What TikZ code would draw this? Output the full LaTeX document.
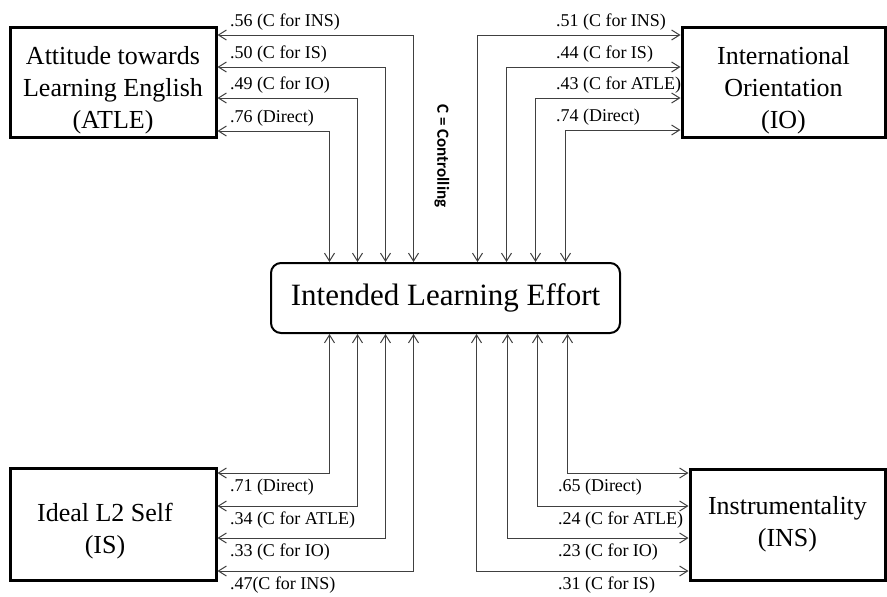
\documentclass[tikz,border=0pt]{standalone}
\usepackage{fontspec}
\setmainfont{Liberation Serif}
\newfontfamily\notefont{Carlito}
\usetikzlibrary{arrows.meta,calc}

\begin{document}
\begin{tikzpicture}[
  x=0.5pt, y=-0.5pt,
  >={Straight Barb[length=4pt,width=5pt]},
  factor/.style={rectangle, draw=black, line width=1.5pt, inner sep=0pt},
  factortext/.style={align=center, inner sep=0pt, font=\fontsize{13}{16}\selectfont},
  outcome/.style={rectangle, rounded corners=5pt, draw=black, line width=1pt, minimum width=174.5pt, minimum height=35pt, font=\fontsize{15.5}{18}\selectfont},
  link/.style={<->, draw=black!75, line width=0.5pt},
  coef/.style={inner sep=1pt, font=\fontsize{9}{10}\selectfont}
]
\useasboundingbox (0,0) rectangle (887,596);

% Outcome
\node[outcome] (ile) at (445.5,298) {Intended Learning Effort};

% Predictors
\node[factor, minimum width=103pt, minimum height=55pt] (atle) at (113,82) {};
\node[factortext] (atle-t) at ($(atle)+(0,8)$) {Attitude towards\\Learning English\\(ATLE)};
\node[factor, minimum width=101.5pt, minimum height=55pt] (io) at (783.5,82) {};
\node[factortext] (io-t) at ($(io)+(0,8)$) {International\\Orientation\\(IO)};
\node[factor, minimum width=103pt, minimum height=56pt] (is) at (113,524) {};
\node[factortext] (is-t) at ($(is)+(-8,7)$) {Ideal L2 Self\\(IS)};
\node[factor, minimum width=97.5pt, minimum height=55.5pt] (ins) at (787.5,524.5) {};
\node[factortext] (ins-t) at (ins) {Instrumentality\\(INS)};

% Note
\node[rotate=-90, font=\notefont\bfseries\fontsize{8.5}{10}\selectfont] (note) at (442,156) {C = Controlling};

% Edges ATLE -- ILE
\draw[link] ($(atle.east)+(0,-47)$) -| node[coef, pos=0, anchor=south west, xshift=5pt, yshift=1pt] (atle1) {.56 (C for INS)} ($(ile.north)+(-32,0)$);
\draw[link] ($(atle.east)+(0,-15)$) -| node[coef, pos=0, anchor=south west, xshift=5pt, yshift=1pt] (atle2) {.50 (C for IS)} ($(ile.north)+(-60,0)$);
\draw[link] ($(atle.east)+(0,16)$) -| node[coef, pos=0, anchor=south west, xshift=5pt, yshift=1pt] (atle3) {.49 (C for IO)} ($(ile.north)+(-88,0)$);
\draw[link] ($(atle.east)+(0,49)$) -| node[coef, pos=0, anchor=south west, xshift=5pt, yshift=1pt] (atle4) {.76 (Direct)} ($(ile.north)+(-116,0)$);

% Edges IO -- ILE
\draw[link] ($(io.west)+(0,-47)$) -| node[coef, pos=0, anchor=south west, xshift=-63.5pt, yshift=1pt] (io1) {.51 (C for INS)} ($(ile.north)+(32,0)$);
\draw[link] ($(io.west)+(0,-15)$) -| node[coef, pos=0, anchor=south west, xshift=-63.5pt, yshift=1pt] (io2) {.44 (C for IS)} ($(ile.north)+(61,0)$);
\draw[link] ($(io.west)+(0,16)$) -| node[coef, pos=0, anchor=south west, xshift=-63.5pt, yshift=1pt] (io3) {.43 (C for ATLE)} ($(ile.north)+(90,0)$);
\draw[link] ($(io.west)+(0,48)$) -| node[coef, pos=0, anchor=south west, xshift=-63.5pt, yshift=1pt] (io4) {.74 (Direct)} ($(ile.north)+(120,0)$);

% Edges IS -- ILE
\draw[link] ($(is.east)+(0,-51)$) -| node[coef, pos=0, anchor=north west, xshift=5pt, yshift=-1.5pt] (is1) {.71 (Direct)} ($(ile.south)+(-116,0)$);
\draw[link] ($(is.east)+(0,-18)$) -| node[coef, pos=0, anchor=north west, xshift=5pt, yshift=-1.5pt] (is2) {.34 (C for ATLE)} ($(ile.south)+(-88,0)$);
\draw[link] ($(is.east)+(0,14)$) -| node[coef, pos=0, anchor=north west, xshift=5pt, yshift=-1.5pt] (is3) {.33 (C for IO)} ($(ile.south)+(-60,0)$);
\draw[link] ($(is.east)+(0,47)$) -| node[coef, pos=0, anchor=north west, xshift=5pt, yshift=-1.5pt] (is4) {.47(C for INS)} ($(ile.south)+(-32,0)$);

% Edges INS -- ILE
\draw[link] ($(ins.west)+(0,-51.5)$) -| node[coef, pos=0, anchor=north west, xshift=-66.5pt, yshift=-1.5pt] (ins1) {.65 (Direct)} ($(ile.south)+(122,0)$);
\draw[link] ($(ins.west)+(0,-18.5)$) -| node[coef, pos=0, anchor=north west, xshift=-66.5pt, yshift=-1.5pt] (ins2) {.24 (C for ATLE)} ($(ile.south)+(92,0)$);
\draw[link] ($(ins.west)+(0,13.5)$) -| node[coef, pos=0, anchor=north west, xshift=-66.5pt, yshift=-1.5pt] (ins3) {.23 (C for IO)} ($(ile.south)+(62,0)$);
\draw[link] ($(ins.west)+(0,46.5)$) -| node[coef, pos=0, anchor=north west, xshift=-66.5pt, yshift=-1.5pt] (ins4) {.31 (C for IS)} ($(ile.south)+(31,0)$);

\end{tikzpicture}
\end{document}
